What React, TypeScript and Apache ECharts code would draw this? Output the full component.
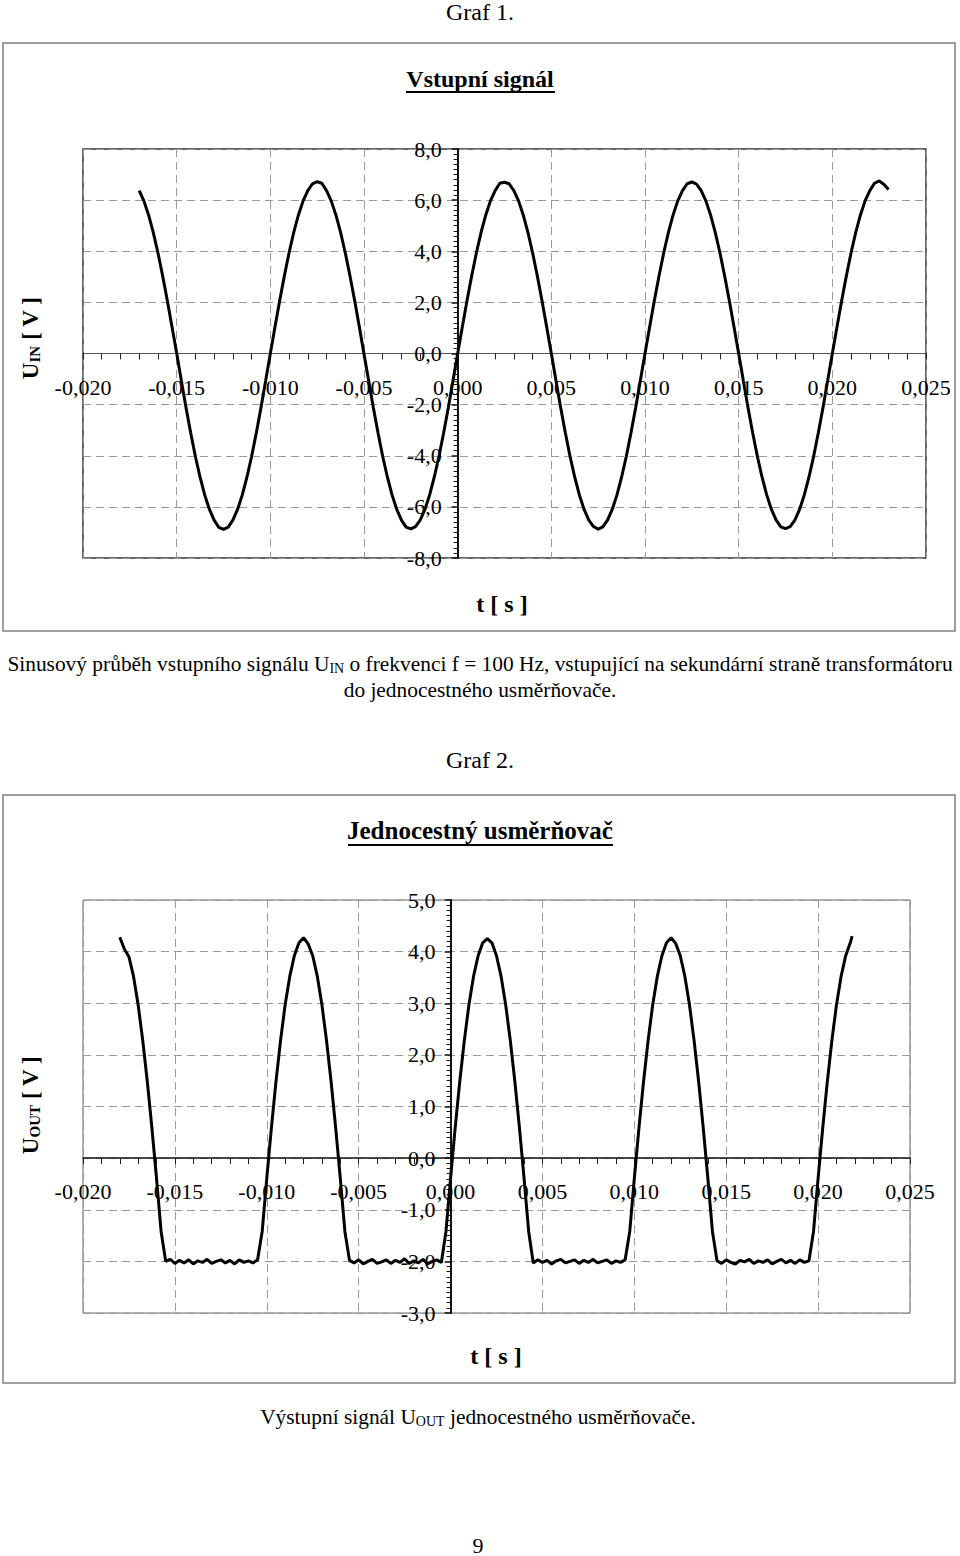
import { useEffect, useRef } from 'react';
import * as echarts from 'echarts';

// ---------- DATA (time in ms, voltage in V) ----------
const tInMs = [
  -17, -16.75, -16.5, -16.25, -16, -15.75, -15.5, -15.25,
  -15, -14.75, -14.5, -14.25, -14, -13.75, -13.5, -13.25, -13, -12.75, -12.5, -12.25,
  -12, -11.75, -11.5, -11.25, -11, -10.75, -10.5, -10.25,
  -10, -9.75, -9.5, -9.25, -9, -8.75, -8.5, -8.25, -8, -7.75, -7.5, -7.25,
  -7, -6.75, -6.5, -6.25, -6, -5.75, -5.5, -5.25,
  -5, -4.75, -4.5, -4.25, -4, -3.75, -3.5, -3.25, -3, -2.75, -2.5, -2.25,
  -2, -1.75, -1.5, -1.25, -1, -0.75, -0.5, -0.25,
  0, 0.25, 0.5, 0.75, 1, 1.25, 1.5, 1.75, 2, 2.25, 2.5, 2.75,
  3, 3.25, 3.5, 3.75, 4, 4.25, 4.5, 4.75,
  5, 5.25, 5.5, 5.75, 6, 6.25, 6.5, 6.75, 7, 7.25, 7.5, 7.75,
  8, 8.25, 8.5, 8.75, 9, 9.25, 9.5, 9.75,
  10, 10.25, 10.5, 10.75, 11, 11.25, 11.5, 11.75, 12, 12.25, 12.5, 12.75,
  13, 13.25, 13.5, 13.75, 14, 14.25, 14.5, 14.75,
  15, 15.25, 15.5, 15.75, 16, 16.25, 16.5, 16.75, 17, 17.25, 17.5, 17.75,
  18, 18.25, 18.5, 18.75, 19, 19.25, 19.5, 19.75,
  20, 20.25, 20.5, 20.75, 21, 21.25, 21.5, 21.75, 22, 22.25, 22.5, 22.75, 23,
];
const uIn = [
  6.37, 5.97, 5.42, 4.74, 3.94, 3.04, 2.07, 1.05,
  0.02, -1.07, -2.12, -3.11, -4.03, -4.84, -5.54, -6.10, -6.52, -6.80, -6.88, -6.79, -6.52, -6.10, -5.54, -4.84, -4.03, -3.11, -2.12, -1.07,
  0, 1.05, 2.07, 3.04, 3.94, 4.74, 5.42, 5.97, 6.37, 6.64, 6.72, 6.66, 6.37, 5.97, 5.42, 4.74, 3.94, 3.04, 2.07, 1.05,
  -0.02, -1.07, -2.12, -3.11, -4.03, -4.84, -5.54, -6.10, -6.52, -6.79, -6.86, -6.77, -6.52, -6.10, -5.54, -4.84, -4.03, -3.11, -2.12, -1.07,
  0, 1.05, 2.07, 3.04, 3.94, 4.74, 5.42, 5.97, 6.37, 6.66, 6.70, 6.64, 6.37, 5.97, 5.42, 4.74, 3.94, 3.04, 2.07, 1.05,
  0, -1.07, -2.12, -3.11, -4.03, -4.84, -5.54, -6.10, -6.52, -6.77, -6.87, -6.78, -6.52, -6.10, -5.54, -4.84, -4.03, -3.11, -2.12, -1.07,
  0, 1.05, 2.07, 3.04, 3.94, 4.74, 5.42, 5.97, 6.37, 6.64, 6.71, 6.63, 6.37, 5.97, 5.42, 4.74, 3.94, 3.04, 2.07, 1.05,
  0, -1.07, -2.12, -3.11, -4.03, -4.84, -5.54, -6.10, -6.52, -6.78, -6.85, -6.77, -6.52, -6.10, -5.54, -4.84, -4.03, -3.11, -2.12, -1.07,
  0, 1.05, 2.07, 3.04, 3.94, 4.74, 5.42, 5.97, 6.37, 6.66, 6.75, 6.62, 6.42,
];

const tOutMs = [
  -18, -17.75, -17.5, -17.25,
  -17, -16.75, -16.5, -16.25, -16, -15.75, -15.5, -15.25,
  -15, -14.75, -14.5, -14.25, -14, -13.75, -13.5, -13.25, -13, -12.75, -12.5, -12.25,
  -12, -11.75, -11.5, -11.25, -11, -10.75, -10.5, -10.25,
  -10, -9.75, -9.5, -9.25, -9, -8.75, -8.5, -8.25, -8, -7.75, -7.5, -7.25,
  -7, -6.75, -6.5, -6.25, -6, -5.75, -5.5, -5.25,
  -5, -4.75, -4.5, -4.25, -4, -3.75, -3.5, -3.25, -3, -2.75, -2.5, -2.25,
  -2, -1.75, -1.5, -1.25, -1, -0.75, -0.5, -0.25,
  0, 0.25, 0.5, 0.75, 1, 1.25, 1.5, 1.75, 2, 2.25, 2.5, 2.75,
  3, 3.25, 3.5, 3.75, 4, 4.25, 4.5, 4.75,
  5, 5.25, 5.5, 5.75, 6, 6.25, 6.5, 6.75, 7, 7.25, 7.5, 7.75,
  8, 8.25, 8.5, 8.75, 9, 9.25, 9.5, 9.75,
  10, 10.25, 10.5, 10.75, 11, 11.25, 11.5, 11.75, 12, 12.25, 12.5, 12.75,
  13, 13.25, 13.5, 13.75, 14, 14.25, 14.5, 14.75,
  15, 15.25, 15.5, 15.75, 16, 16.25, 16.5, 16.75, 17, 17.25, 17.5, 17.75,
  18, 18.25, 18.5, 18.75, 19, 19.25, 19.5, 19.75,
  20, 20.25, 20.5, 20.75, 21, 21.25, 21.5, 21.75, 21.85,
];
const uOut = [
  4.28, 4.05, 3.90, 3.52, 2.97, 2.28, 1.48, 0.58, -0.39, -1.42,
  -2.00, -1.96, -2.04, -1.98, -2.03, -1.97, -2.05, -1.99, -2.02, -1.96, -2.04, -2.00, -1.97, -2.03, -1.98, -2.05, -1.97, -2.02, -1.99, -2.03, -1.97,
  -1.42, -0.39, 0.58, 1.48, 2.28, 2.97, 3.52, 3.92, 4.17,
  4.27, 4.15, 3.92, 3.52, 2.97, 2.28, 1.48, 0.58, -0.39, -1.42,
  -1.98, -2.03, -1.97, -2.05, -2.00, -1.96, -2.04, -2.01, -1.97, -2.04, -1.98, -2.02, -1.95, -2.04, -1.99, -2.03, -1.96, -2.05, -2.00, -1.97, -2.02,
  -1.42, -0.39, 0.58, 1.48, 2.28, 2.97, 3.52, 3.92, 4.17,
  4.25, 4.17, 3.92, 3.52, 2.97, 2.28, 1.48, 0.58, -0.39, -1.42,
  -2.03, -1.97, -2.02, -1.98, -2.05, -1.99, -1.96, -2.03, -2.00, -1.97, -2.04, -1.98, -2.02, -1.96, -2.03, -2.00, -1.97, -2.04, -1.99, -2.02, -1.97,
  -1.42, -0.39, 0.58, 1.48, 2.28, 2.97, 3.52, 3.92, 4.17,
  4.27, 4.16, 3.92, 3.52, 2.97, 2.28, 1.48, 0.58, -0.39, -1.42,
  -1.99, -2.04, -1.97, -2.02, -2.05, -1.98, -2.01, -1.96, -2.04, -1.99, -2.02, -1.97, -2.05, -2.00, -1.96, -2.03, -1.98, -2.04, -1.97, -2.02, -1.99,
  -1.42, -0.39, 0.58, 1.48, 2.28, 2.97, 3.52, 3.92, 4.17,
  4.30,
];

// axis ranges / tick steps
const xRange = [-0.02, 0.025];
const xStep = 0.005;
const yInRange = [-8, 8];
const yInStep = 2;
const yOutRange = [-3, 5];
const yOutStep = 1;

// plot areas
const G1 = { left: 83, top: 149, width: 843, height: 409 };
const G2 = { left: 83, top: 900, width: 827, height: 413 };

const SERIF = "'Liberation Serif', 'Times New Roman', serif";

const fmt = (d: number) => (v: number) => (Math.abs(v) < 1e-9 ? 0 : v).toFixed(d).replace('.', ',');

function pairs(t: number[], v: number[]) {
  const n = Math.min(t.length, v.length);
  const out: number[][] = [];
  for (let i = 0; i < n; i++) out.push([t[i] / 1000, v[i]]);
  return out;
}

// offset that moves an axis from the plot edge to the other axis' zero
const zeroOffset = (size: number, range: number[]) => -size * (0 - range[0]) / (range[1] - range[0]);

function xAxisCfg(gridIndex: number, g: any, yRange: number[], lineColor: string, lineWidth: number, labelMargin: number) {
  return {
    type: 'value', gridIndex, min: xRange[0], max: xRange[1], interval: xStep,
    position: 'bottom', offset: zeroOffset(g.height, yRange),
    axisLine: { show: true, onZero: false, lineStyle: { color: lineColor, width: lineWidth } },
    axisTick: { show: true, inside: false, length: 6, lineStyle: { color: '#222', width: 1 } },
    minorTick: { show: true, splitNumber: 5, length: 6, lineStyle: { color: '#222', width: 1 } },
    axisLabel: {
      show: true, margin: labelMargin, formatter: fmt(3), color: '#000',
      fontFamily: SERIF, fontSize: 22, showMinLabel: true, showMaxLabel: true, hideOverlap: false,
    },
    splitLine: { show: true, lineStyle: { color: '#999', width: 1, type: [8, 5] } },
  };
}

function yAxisCfg(gridIndex: number, g: any, range: number[], step: number, labelMargin: number) {
  return {
    type: 'value', gridIndex, min: range[0], max: range[1], interval: step,
    position: 'left', offset: zeroOffset(g.width, xRange),
    axisLine: { show: true, onZero: false, lineStyle: { color: '#111', width: 2 } },
    axisTick: { show: true, inside: false, length: 6, lineStyle: { color: '#111', width: 1.5 } },
    minorTick: { show: true, splitNumber: 10, length: 4, lineStyle: { color: '#111', width: 1 } },
    axisLabel: {
      show: true, margin: labelMargin, formatter: fmt(1), color: '#000',
      fontFamily: SERIF, fontSize: 22, showMinLabel: true, showMaxLabel: true, hideOverlap: false,
    },
    splitLine: { show: true, lineStyle: { color: '#999', width: 1, type: [8, 5] } },
  };
}

function txt(text: string, x: number, y: number, size: number, bold = false, extra: any = {}) {
  return {
    type: 'text', x, y, silent: true, z: 10,
    style: {
      text, fill: '#000', fontFamily: SERIF, fontSize: size, fontWeight: bold ? 'bold' : 'normal',
      textAlign: 'center', textVerticalAlign: 'middle', ...extra,
    },
  };
}

function richTxt(text: string, x: number, y: number, size: number, subSize: number, bold: boolean, rotation = 0) {
  const w = bold ? 'bold' : 'normal';
  return {
    type: 'text', x, y, rotation, silent: true, z: 10,
    style: {
      text, fill: '#000', textAlign: 'center', textVerticalAlign: 'middle',
      fontFamily: SERIF, fontSize: size, fontWeight: w,
      rich: {
        n: { fontFamily: SERIF, fontSize: size, fontWeight: w, fill: '#000', lineHeight: size + 2 },
        s: { fontFamily: SERIF, fontSize: subSize, fontWeight: w, fill: '#000', lineHeight: size + 2, verticalAlign: 'bottom' },
      },
    },
  };
}

function buildOption() {
  return {
    animation: false,
    backgroundColor: '#ffffff',
    grid: [
      { ...G1, show: true, borderColor: '#333', borderWidth: 1.5, backgroundColor: 'transparent' },
      { ...G2, show: true, borderColor: '#666', borderWidth: 1, backgroundColor: 'transparent' },
    ],
    xAxis: [xAxisCfg(0, G1, yInRange, '#555', 1, 23), xAxisCfg(1, G2, yOutRange, '#111', 1.5, 22)],
    yAxis: [yAxisCfg(0, G1, yInRange, yInStep, 16), yAxisCfg(1, G2, yOutRange, yOutStep, 15)],
    series: [
      {
        type: 'line', xAxisIndex: 0, yAxisIndex: 0, data: pairs(tInMs, uIn),
        showSymbol: false, symbol: 'none', smooth: false, z: 5,
        lineStyle: { color: '#000', width: 3 },
      },
      {
        type: 'line', xAxisIndex: 1, yAxisIndex: 1, data: pairs(tOutMs, uOut),
        showSymbol: false, symbol: 'none', smooth: false, z: 5,
        lineStyle: { color: '#000', width: 3 },
      },
    ],
    graphic: [
      { type: 'rect', silent: true, z: 1, shape: { x: 3, y: 43, width: 952, height: 588 }, style: { fill: 'none', stroke: '#808080', lineWidth: 1.5 } },
      { type: 'rect', silent: true, z: 1, shape: { x: 3, y: 795, width: 952, height: 588 }, style: { fill: 'none', stroke: '#808080', lineWidth: 1.5 } },
      txt('Graf 1.', 480, 12, 24),
      txt('Vstupní signál', 480, 79, 24, true),
      { type: 'line', silent: true, z: 10, shape: { x1: 406, y1: 92, x2: 555, y2: 92 }, style: { stroke: '#000', lineWidth: 2 } },
      richTxt('{n|U}{s|IN}{n| [ V ]}', 30, 338, 23, 15, true, Math.PI / 2),
      txt('t [ s ]', 502, 604, 24, true),
      richTxt('{n|Sinusový průběh vstupního signálu U}{s|IN}{n| o frekvenci f = 100 Hz, vstupující na sekundární straně transformátoru}', 480, 664, 21.4, 14, false),
      txt('do jednocestného usměrňovače.', 480, 690, 21.4),
      txt('Graf 2.', 480, 760, 24),
      txt('Jednocestný usměrňovač', 480, 830, 25, true),
      { type: 'line', silent: true, z: 10, shape: { x1: 348, y1: 845, x2: 613, y2: 845 }, style: { stroke: '#000', lineWidth: 2 } },
      richTxt('{n|U}{s|OUT}{n| [ V ]}', 30, 1105, 23, 15, true, Math.PI / 2),
      txt('t [ s ]', 496, 1356, 24, true),
      richTxt('{n|Výstupní signál U}{s|OUT}{n| jednocestného usměrňovače.}', 478, 1417, 21.4, 14, false),
      txt('9', 478, 1545, 22),
    ],
  };
}

export default function App() {
  const ref = useRef<HTMLDivElement>(null);
  useEffect(() => {
    if (!ref.current) return;
    const chart = echarts.init(ref.current, null, { renderer: 'svg' });
    chart.setOption(buildOption() as any);
    return () => chart.dispose();
  }, []);
  return (
    <div
      ref={ref}
      style={{ position: 'absolute', left: 0, top: 0, width: 960, height: 1556, background: '#fff' }}
    />
  );
}
